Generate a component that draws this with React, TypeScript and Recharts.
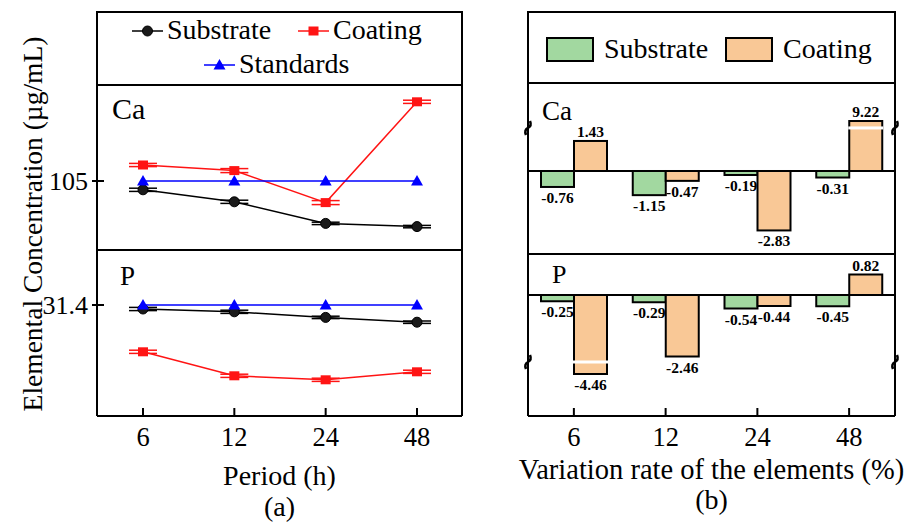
import React from 'react';
import {
  LineChart,
  Line,
  BarChart,
  Bar,
  XAxis,
  YAxis,
  ErrorBar,
  Legend,
  ReferenceLine,
  LabelList,
  Label,
} from 'recharts';

const FONT = '"Liberation Serif", "Times New Roman", Times, serif';
const W = 914;
const H = 524;

// ---------- data ----------
const periods = ['6', '12', '24', '48'];

// (a) concentration in solution, µg/mL
const caStandards = [105, 105, 105, 105];
const caSubstrate = [103.9, 102.4, 99.7, 99.3];
const caSubstrateErr = [0.2, 0.2, 0.15, 0.15];
const caCoating = [107.0, 106.3, 102.3, 114.9];
const caCoatingErr = [0.2, 0.25, 0.25, 0.2];

const pStandards = [31.4, 31.4, 31.4, 31.4];
const pSubstrate = [31.3, 31.23, 31.09, 30.97];
const pSubstrateErr = [0.04, 0.04, 0.03, 0.03];
const pCoating = [30.23, 29.63, 29.53, 29.73];
const pCoatingErr = [0.04, 0.04, 0.04, 0.04];

// (b) variation rate, %
const caSubstrateRate = [-0.76, -1.15, -0.19, -0.31];
const caCoatingRate = [1.43, -0.47, -2.83, 9.22];
const pSubstrateRate = [-0.25, -0.29, -0.54, -0.45];
const pCoatingRate = [-4.46, -2.46, -0.44, 0.82];

// broken value axes: the span [at, at ± skip] is cut out
type AxisBreak = { at: number; skip: number };
const caBreak: AxisBreak = { at: 2.05, skip: 6.84 };
const pBreak: AxisBreak = { at: -2.68, skip: 1.3 };

const compress = (v: number, b: AxisBreak) => {
  if (b.at > 0) return v > b.at + b.skip ? v - b.skip : v;
  return v < b.at - b.skip ? v + b.skip : v;
};

const concRows = (
  std: number[],
  sub: number[],
  subErr: number[],
  coat: number[],
  coatErr: number[]
) =>
  periods.map((period, i) => ({
    period,
    std: std[i],
    sub: sub[i],
    subErr: subErr[i],
    coat: coat[i],
    coatErr: coatErr[i],
  }));

const rateRows = (sub: number[], coat: number[], b: AxisBreak) =>
  periods.map((period, i) => ({
    period,
    sub: sub[i],
    coat: coat[i],
    subShown: compress(sub[i], b),
    coatShown: compress(coat[i], b),
  }));

const caConc = concRows(caStandards, caSubstrate, caSubstrateErr, caCoating, caCoatingErr);
const pConc = concRows(pStandards, pSubstrate, pSubstrateErr, pCoating, pCoatingErr);
const caRate = rateRows(caSubstrateRate, caCoatingRate, caBreak);
const pRate = rateRows(pSubstrateRate, pCoatingRate, pBreak);

// ---------- styling ----------
const BLACK = '#000000';
const RED = '#ff1414';
const BLUE = '#0000ff';
const GREEN = '#a2d8a0';
const ORANGE = '#f9c896';
const frame = { stroke: BLACK, strokeWidth: 2 };

const CircleDot = (p: any) =>
  p.cx == null ? <g key={p.index} /> : (
    <circle key={p.index} cx={p.cx} cy={p.cy} r={5} fill="#1a1a1a" stroke={BLACK} strokeWidth={1} />
  );
const SquareDot = (p: any) =>
  p.cx == null ? <g key={p.index} /> : (
    <rect key={p.index} x={p.cx - 5} y={p.cy - 4.5} width={10} height={9} fill={RED} />
  );
const TriangleDot = (p: any) =>
  p.cx == null ? <g key={p.index} /> : (
    <path
      key={p.index}
      d={`M${p.cx},${p.cy - 6}L${p.cx + 6},${p.cy + 4.5}L${p.cx - 6},${p.cy + 4.5}Z`}
      fill={BLUE}
    />
  );

const yTick = (p: any) => (
  <g>
    <line x1={p.x - 5} y1={p.y} x2={p.x + 7} y2={p.y} stroke={BLACK} strokeWidth={2} />
    <text x={p.x - 9} y={p.y + 9} textAnchor="end" fontFamily={FONT} fontSize={26} fill={BLACK}>
      {p.payload.value}
    </text>
  </g>
);

const xTick = (p: any) => (
  <g>
    <line x1={p.x} y1={p.y} x2={p.x} y2={p.y - 8} stroke={BLACK} strokeWidth={2} />
    <text x={p.x} y={p.y + 30} textAnchor="middle" fontFamily={FONT} fontSize={26.5} fill={BLACK}>
      {p.payload.value}
    </text>
  </g>
);

const panelName = (name: string, dx: number, dy: number, size: number) => (p: any) => {
  const vb = p.viewBox || {};
  return (
    <text x={vb.x + vb.width + dx} y={vb.y + dy} fontFamily={FONT} fontSize={size} fill={BLACK}>
      {name}
    </text>
  );
};

const axisText = (text: string, dy: number, size: number) => (p: any) => {
  const vb = p.viewBox || {};
  return (
    <text
      x={vb.x + vb.width / 2}
      y={vb.y + dy}
      textAnchor="middle"
      fontFamily={FONT}
      fontSize={size}
      fill={BLACK}
    >
      {text}
    </text>
  );
};

const concTitle = (p: any) => {
  const vb = p.viewBox || {};
  const x = vb.x + vb.width - 55;
  const y = vb.y - 26;
  return (
    <text
      x={x}
      y={y}
      transform={`rotate(-90, ${x}, ${y})`}
      textAnchor="middle"
      fontFamily={FONT}
      fontSize={27.5}
      fill={BLACK}
    >
      Elemental Concentration (µg/mL)
    </text>
  );
};

// value text above a rising bar or below a falling one
const rateText = (cx: number, top: number, bottom: number, v: number) => (
  <text
    x={cx}
    y={v >= 0 ? top - 4 : bottom + 16}
    textAnchor="middle"
    fontFamily={FONT}
    fontWeight="bold"
    fontSize={15.5}
    fill={BLACK}
  >
    {v.toFixed(2)}
  </text>
);

// bar with a white cut where the value axis is broken; optionally carries
// its own value text so that the neighbouring series can overlap it
const makeBarShape = (rawKey: string, b: AxisBreak, withText: boolean) => (p: any) => {
  const { x, y, width, height, fill, payload } = p;
  if (x == null || y == null) return <g />;
  const top = Math.min(y, y + height);
  const h = Math.abs(height);
  const raw = payload[rawKey];
  const shown = compress(raw, b);
  let cut = null;
  if (shown !== raw && shown !== 0) {
    const ppu = h / Math.abs(shown);
    const zeroY = shown > 0 ? top + h : top;
    const cutY = zeroY - b.at * ppu;
    cut = <rect x={x - 1} y={cutY - 1.5} width={width + 2} height={3} fill="#ffffff" />;
  }
  return (
    <g>
      <rect x={x} y={top} width={width} height={h} fill={fill} stroke={BLACK} strokeWidth={2} />
      {cut}
      {withText ? rateText(x + width / 2, top, top + h, raw) : null}
    </g>
  );
};

const rateLabel = (p: any) => {
  const vb = p.viewBox || p;
  const x = vb.x ?? p.x;
  const y = vb.y ?? p.y;
  const w = vb.width ?? p.width;
  const h = vb.height ?? p.height;
  if (x == null || y == null) return null;
  const top = Math.min(y, y + h);
  const bottom = Math.max(y, y + h);
  return rateText(x + w / 2, top, bottom, Number(p.value));
};

const breakMark = (x: number, y: number) =>
  `M${x + 2},${y - 7} Q${x + 4},${y - 2} ${x},${y} Q${x - 4},${y + 2} ${x - 2},${y + 7}`;

const breakMarks = (p: any) => {
  const { x1, x2, y1 } = p;
  if (x1 == null) return <g />;
  return (
    <g>
      <path d={breakMark(x1, y1)} fill="none" stroke={BLACK} strokeWidth={2.5} />
      <path d={breakMark(x2, y1)} fill="none" stroke={BLACK} strokeWidth={2.5} />
    </g>
  );
};

// ---------- legends ----------
const lineLegendItems = [
  { name: 'Substrate', color: BLACK, dot: CircleDot, x: 132, y: 31 },
  { name: 'Coating', color: RED, dot: SquareDot, x: 298, y: 31 },
  { name: 'Standards', color: BLUE, dot: TriangleDot, x: 204, y: 65 },
];

const LineLegend = () => (
  <svg width={W} height={100} style={{ display: 'block' }}>
    <rect x={97} y={12} width={365} height={73} fill="none" stroke={BLACK} strokeWidth={2} />
    {lineLegendItems.map((it) => (
      <g key={it.name}>
        <line x1={it.x} y1={it.y} x2={it.x + 31} y2={it.y} stroke={it.color} strokeWidth={1.5} />
        {it.dot({ cx: it.x + 15.5, cy: it.y, index: 0 })}
        <text x={it.x + 35} y={it.y + 8} fontFamily={FONT} fontSize={28} fill={BLACK}>
          {it.name}
        </text>
      </g>
    ))}
  </svg>
);

const barLegendItems = [
  { name: 'Substrate', color: GREEN, x: 547 },
  { name: 'Coating', color: ORANGE, x: 726 },
];

const BarLegend = () => (
  <svg width={W} height={100} style={{ display: 'block' }}>
    <rect x={528} y={12} width={367} height={71} fill="none" stroke={BLACK} strokeWidth={2} />
    {barLegendItems.map((it) => (
      <g key={it.name}>
        <rect x={it.x} y={38} width={46} height={23} fill={it.color} stroke={BLACK} strokeWidth={2} />
        <text x={it.x + 57} y={58} fontFamily={FONT} fontSize={28} fill={BLACK}>
          {it.name}
        </text>
      </g>
    ))}
  </svg>
);

const legendWrap = { left: 0, top: 0, width: W, height: 100 };

const layer: React.CSSProperties = { position: 'absolute', left: 0, top: 0 };

// ---------- panels ----------
// axes are 1px thick boxes; margins place the plot frames
const caConcDomain: [number, number] = [96.375, 117];
const pConcDomain: [number, number] = [28.625, 32.775];
const caRateDomain: [number, number] = [-3.952, 4.19];
const pRateDomain: [number, number] = [-4.84, 1.64];

function ConcentrationCa() {
  return (
    <LineChart width={W} height={H} data={caConc} margin={{ top: 84, right: 451, bottom: 273, left: 96 }}>
      <XAxis dataKey="period" padding={{ left: 46, right: 45 }} height={1} tick={false} tickLine={false} axisLine={frame} />
      <XAxis xAxisId="top" orientation="top" dataKey="period" height={1} tick={false} tickLine={false} axisLine={frame} />
      <YAxis type="number" domain={caConcDomain} ticks={[105]} width={1} tickSize={0} tickMargin={0} tickLine={false} axisLine={frame} tick={yTick}>
        <Label content={panelName('Ca', 15, 34, 30)} />
      </YAxis>
      <YAxis yAxisId="right" orientation="right" type="number" domain={caConcDomain} width={1} tick={false} tickLine={false} axisLine={frame} />
      <Line dataKey="sub" name="Substrate" stroke={BLACK} strokeWidth={1.5} dot={CircleDot} activeDot={false} isAnimationActive={false}>
        <ErrorBar dataKey="subErr" width={14} stroke={BLACK} strokeWidth={1.5} direction="y" />
      </Line>
      <Line dataKey="coat" name="Coating" stroke={RED} strokeWidth={1.5} dot={SquareDot} activeDot={false} isAnimationActive={false}>
        <ErrorBar dataKey="coatErr" width={14} stroke={RED} strokeWidth={1.5} direction="y" />
      </Line>
      <Line dataKey="std" name="Standards" stroke={BLUE} strokeWidth={1.5} dot={TriangleDot} activeDot={false} isAnimationActive={false} />
      <Legend layout="horizontal" verticalAlign="middle" align="center" wrapperStyle={legendWrap} content={<LineLegend />} />
    </LineChart>
  );
}

function ConcentrationP() {
  return (
    <LineChart width={W} height={H} data={pConc} margin={{ top: 249, right: 451, bottom: 107, left: 96 }}>
      <XAxis dataKey="period" padding={{ left: 46, right: 45 }} height={1} tickSize={0} tickMargin={0} interval={0} tickLine={false} axisLine={frame} tick={xTick}>
        <Label content={axisText('Period (h)', 69, 28)} />
        <Label content={axisText('(a)', 100, 28)} />
      </XAxis>
      <XAxis xAxisId="top" orientation="top" dataKey="period" height={1} tick={false} tickLine={false} axisLine={frame} />
      <YAxis type="number" domain={pConcDomain} ticks={[31.4]} width={1} tickSize={0} tickMargin={0} tickLine={false} axisLine={frame} tick={yTick}>
        <Label content={panelName('P', 23, 35, 27)} />
        <Label content={concTitle} />
      </YAxis>
      <YAxis yAxisId="right" orientation="right" type="number" domain={pConcDomain} width={1} tick={false} tickLine={false} axisLine={frame} />
      <Line dataKey="sub" name="Substrate" stroke={BLACK} strokeWidth={1.5} dot={CircleDot} activeDot={false} isAnimationActive={false}>
        <ErrorBar dataKey="subErr" width={14} stroke={BLACK} strokeWidth={1.5} direction="y" />
      </Line>
      <Line dataKey="coat" name="Coating" stroke={RED} strokeWidth={1.5} dot={SquareDot} activeDot={false} isAnimationActive={false}>
        <ErrorBar dataKey="coatErr" width={14} stroke={RED} strokeWidth={1.5} direction="y" />
      </Line>
      <Line dataKey="std" name="Standards" stroke={BLUE} strokeWidth={1.5} dot={TriangleDot} activeDot={false} isAnimationActive={false} />
    </LineChart>
  );
}

function RateCa() {
  return (
    <BarChart width={W} height={H} data={caRate} margin={{ top: 82, right: 18, bottom: 269, left: 527 }} barSize={33} barGap={0}>
      <XAxis dataKey="period" height={1} tick={false} tickLine={false} axisLine={frame} />
      <XAxis xAxisId="top" orientation="top" dataKey="period" height={1} tick={false} tickLine={false} axisLine={frame} />
      <YAxis type="number" domain={caRateDomain} width={1} tick={false} tickLine={false} axisLine={frame}>
        <Label content={panelName('Ca', 14, 37, 27)} />
      </YAxis>
      <YAxis yAxisId="right" orientation="right" type="number" domain={caRateDomain} width={1} tick={false} tickLine={false} axisLine={frame} />
      <ReferenceLine y={0} stroke={BLACK} strokeWidth={2} />
      <ReferenceLine y={caBreak.at} shape={breakMarks} />
      <Bar dataKey="subShown" name="Substrate" fill={GREEN} shape={makeBarShape('sub', caBreak, true)} isAnimationActive={false} />
      <Bar dataKey="coatShown" name="Coating" fill={ORANGE} shape={makeBarShape('coat', caBreak, false)} isAnimationActive={false}>
        <LabelList dataKey="coat" content={rateLabel} />
      </Bar>
      <Legend layout="horizontal" verticalAlign="middle" align="center" wrapperStyle={legendWrap} content={<BarLegend />} />
    </BarChart>
  );
}

function RateP() {
  return (
    <BarChart width={W} height={H} data={pRate} margin={{ top: 253, right: 18, bottom: 107, left: 527 }} barSize={33} barGap={0}>
      <XAxis dataKey="period" height={1} tickSize={0} tickMargin={0} interval={0} tickLine={false} axisLine={frame} tick={xTick}>
        <Label content={axisText('Variation rate of the elements (%)', 63, 28.5)} />
        <Label content={axisText('(b)', 93, 28)} />
      </XAxis>
      <XAxis xAxisId="top" orientation="top" dataKey="period" height={1} tick={false} tickLine={false} axisLine={frame} />
      <YAxis type="number" domain={pRateDomain} width={1} tick={false} tickLine={false} axisLine={frame}>
        <Label content={panelName('P', 24, 29, 26)} />
      </YAxis>
      <YAxis yAxisId="right" orientation="right" type="number" domain={pRateDomain} width={1} tick={false} tickLine={false} axisLine={frame} />
      <ReferenceLine y={0} stroke={BLACK} strokeWidth={2} />
      <ReferenceLine y={pBreak.at} shape={breakMarks} />
      <Bar dataKey="subShown" name="Substrate" fill={GREEN} shape={makeBarShape('sub', pBreak, true)} isAnimationActive={false} />
      <Bar dataKey="coatShown" name="Coating" fill={ORANGE} shape={makeBarShape('coat', pBreak, false)} isAnimationActive={false}>
        <LabelList dataKey="coat" content={rateLabel} />
      </Bar>
    </BarChart>
  );
}

export default function App() {
  return (
    <div style={{ position: 'absolute', left: 0, top: 0, width: W, height: H, background: '#ffffff' }}>
      <div style={layer}><ConcentrationCa /></div>
      <div style={layer}><ConcentrationP /></div>
      <div style={layer}><RateCa /></div>
      <div style={layer}><RateP /></div>
    </div>
  );
}
